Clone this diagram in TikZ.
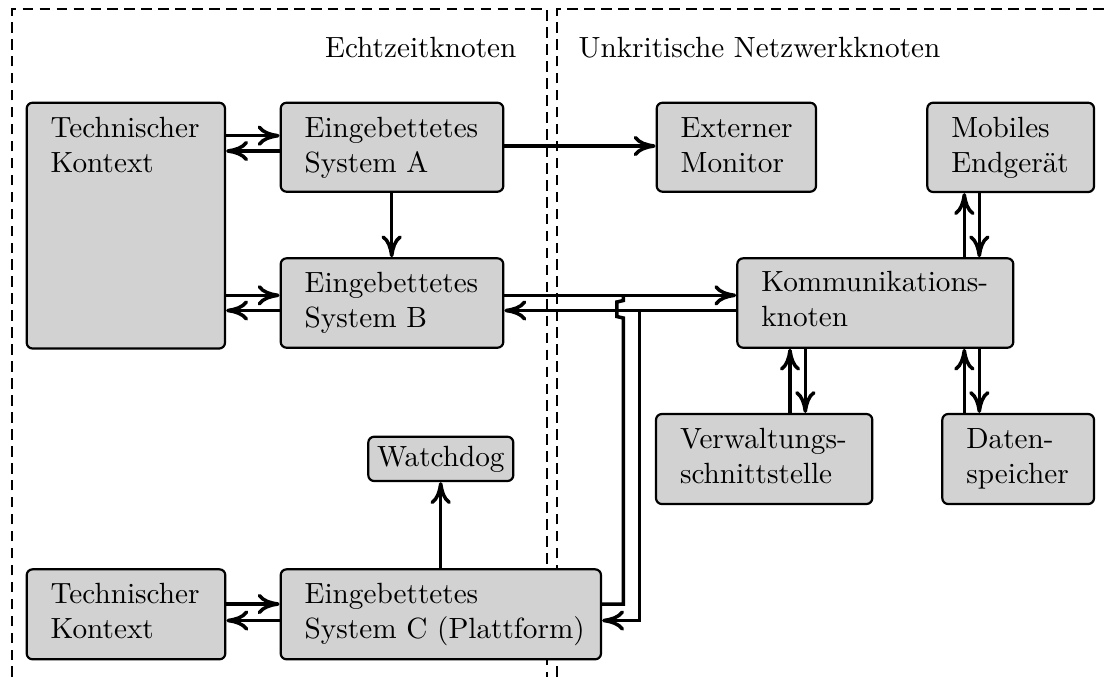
\documentclass[tikz,border=0pt]{standalone}
\usetikzlibrary{arrows.meta,fit}
\begin{document}
\begin{tikzpicture}[x=0.342pt,y=-0.342pt,
  box/.style={draw, line width=0.75pt, fill=gray!35, rounded corners=2pt, inner sep=0pt},
  txt/.style={align=left, inner sep=0pt, anchor=north west},
  conn/.style={line width=1.2pt},
  arr/.style={line width=1.2pt, -{Computer Modern Rightarrow[length=7.5pt,width=7pt]}},
  frame/.style={line width=0.6pt, dash pattern=on 3.6pt off 2.2pt}]
\useasboundingbox (0,0) rectangle (1105,677);

% frames
\draw[frame] (12,677) -- (12,9.3) -- (547.3,9.3) -- (547.3,677);
\draw[frame] (556.7,677) -- (556.7,9.3) -- (1105,9.3);
\node[anchor=base east, inner sep=0pt] (hdrL) at (517,57) {Echtzeitknoten};
\node[anchor=base west, inner sep=0pt] (hdrR) at (578,57) {Unkritische Netzwerkknoten};

% boxes
\node[box, fit={(26.7,102.7) (225,348.5)}] (tk1) {};
\node[box, fit={(280.7,102.7) (503.3,191.7)}] (sa) {};
\node[box, fit={(280.7,258.3) (503.3,347.7)}] (sb) {};
\node[box, fit={(656.7,102.7) (816,191.7)}] (mon) {};
\node[box, fit={(927.3,102.7) (1094,192)}] (mob) {};
\node[box, fit={(737.3,258.3) (1013.3,347.7)}] (komm) {};
\node[box, fit={(656,414) (872.3,504)}] (verw) {};
\node[box, fit={(942.3,414) (1094,504)}] (dat) {};
\node[box, fit={(368.3,436.7) (513.3,481)}] (wd) {};
\node[box, fit={(26.7,569.3) (225.3,659.3)}] (tk2) {};
\node[box, fit={(280.7,569.3) (601,659.3)}] (sc) {};

% texts
\node[txt] (tk1-t) at ([shift={(24.5,10.5)}]tk1.north west) {\strut Technischer\\Kontext};
\node[txt] (sa-t) at ([shift={(24.5,10.5)}]sa.north west) {\strut Eingebettetes\\System A};
\node[txt] (sb-t) at ([shift={(24.5,10.5)}]sb.north west) {\strut Eingebettetes\\System B};
\node[txt] (mon-t) at ([shift={(24.5,10.5)}]mon.north west) {\strut Externer\\Monitor};
\node[txt] (mob-t) at ([shift={(24.5,10.5)}]mob.north west) {\strut Mobiles\\Endger\"at};
\node[txt] (komm-t) at ([shift={(24.5,9.5)}]komm.north west) {\strut Kommunikations-\\knoten};
\node[txt] (verw-t) at ([shift={(24.5,10.5)}]verw.north west) {\strut Verwaltungs-\\schnittstelle};
\node[txt] (dat-t) at ([shift={(24.5,10.5)}]dat.north west) {\strut Daten-\\speicher};
\node[inner sep=0pt] (wd-t) at (wd.center) {Watchdog};
\node[txt] (tk2-t) at ([shift={(24.5,10.5)}]tk2.north west) {\strut Technischer\\Kontext};
\node[txt] (sc-t) at ([shift={(24.5,10.5)}]sc.north west) {\strut Eingebettetes\\System C (Plattform)};

% levels
\coordinate (yA1) at (0,135.7);
\coordinate (yA2) at (0,151);
\coordinate (yAM) at (0,146);
\coordinate (yB1) at (0,295.3);
\coordinate (yB2) at (0,310.5);
\coordinate (yC1) at (0,604);
\coordinate (yC2) at (0,620.5);
\coordinate (xAB) at (391.7,0);
\coordinate (xWD) at (440.7,0);
\coordinate (xV1) at (790,0);
\coordinate (xV2) at (805.3,0);
\coordinate (xM1) at (964.3,0);
\coordinate (xM2) at (979.3,0);
\coordinate (jA) at (623.3,295.3);
\coordinate (jB) at (639.3,310.5);

% connectors left
\draw[arr] (tk1.east |- yA1) -- (sa.west |- yA1);
\draw[arr] (sa.west |- yA2) -- (tk1.east |- yA2);
\draw[arr] (tk1.east |- yB1) -- (sb.west |- yB1);
\draw[arr] (sb.west |- yB2) -- (tk1.east |- yB2);
\draw[arr] (tk2.east |- yC1) -- (sc.west |- yC1);
\draw[arr] (sc.west |- yC2) -- (tk2.east |- yC2);
\draw[arr] (xAB |- sa.south) -- (xAB |- sb.north);
\draw[arr] (xWD |- sc.north) -- (xWD |- wd.south);
\draw[arr] (sa.east |- yAM) -- (mon.west |- yAM);

% B / C <-> Kommunikationsknoten
\draw[arr] (sb.east |- yB1) -- (komm.west |- yB1);
\draw[arr] (komm.west |- yB2) -- (sb.east |- yB2);
\draw[conn, line join=miter] (sc.east |- yC1) -| (623.3,318) -- (616.8,316.5) -- (616.8,302) -- (623.3,300.5) -- (jA);
\draw[arr] (jB) |- (sc.east |- yC2);

% Kommunikationsknoten <-> others
\draw[arr] (xM1 |- komm.north) -- (xM1 |- mob.south);
\draw[arr] (xM2 |- mob.south) -- (xM2 |- komm.north);
\draw[arr] (xV1 |- verw.north) -- (xV1 |- komm.south);
\draw[arr] (xV2 |- komm.south) -- (xV2 |- verw.north);
\draw[arr] (xM1 |- dat.north) -- (xM1 |- komm.south);
\draw[arr] (xM2 |- komm.south) -- (xM2 |- dat.north);
\end{tikzpicture}
\end{document}
